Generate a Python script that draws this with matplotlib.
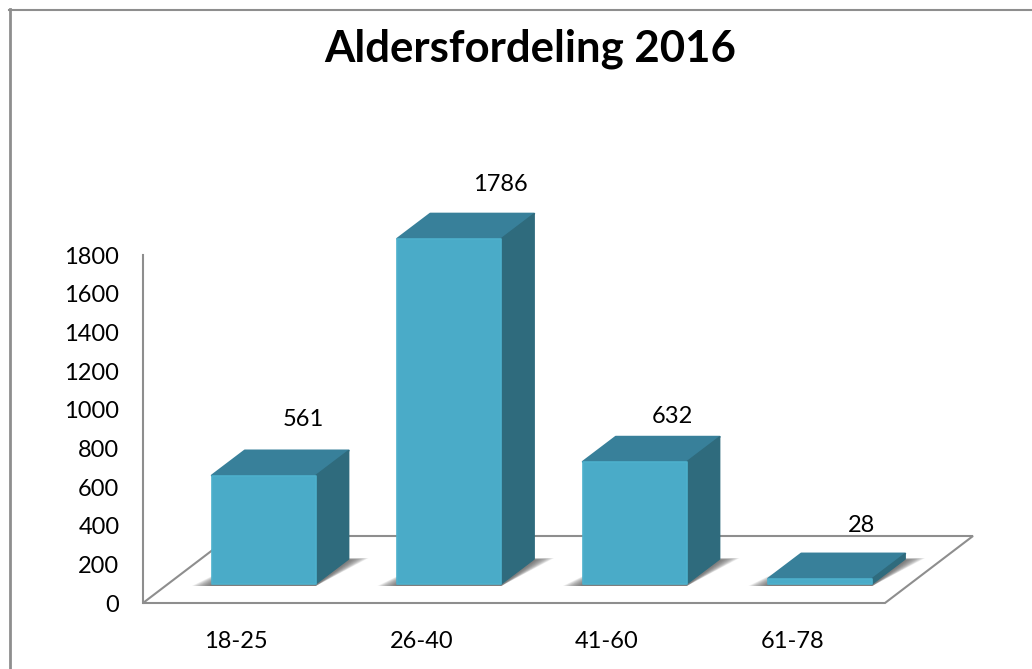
#!/usr/bin/env python3
import matplotlib
matplotlib.use("Agg")
import matplotlib.pyplot as plt
from matplotlib.lines import Line2D
from matplotlib.patches import Polygon
from matplotlib.transforms import IdentityTransform

plt.rcParams["font.family"] = ["Lato", "DejaVu Sans"]

# values
title = "Aldersfordeling 2016"
categories = ["18-25", "26-40", "41-60", "61-78"]
values = [561, 1786, 632, 28]
y_ticks = [0, 200, 400, 600, 800, 1000, 1200, 1400, 1600, 1800]

# colours
FRONT = "#4aabc8"
EDGE = "#4db0cc"
TOP = "#38809a"
SIDE = "#2f6b7d"
GREY = "#8e8e8e"

W, H = 1032, 669
BAR_W = 0.56
# pixel offsets of the oblique projection
FRONT_OFF = (28, 19)
BACK_OFF = (61, 44)
FLOOR_OFF = (88, 67)
LABEL_OFF = [(40, 56), (51, 54), (38, 45), (41, 53)]


def main():
    fig = plt.figure(figsize=(W / 100, H / 100), dpi=100)
    ax = fig.add_axes([143 / W, (H - 603) / H, (885 - 143) / W, 348 / H])
    ax.set_xlim(-0.5, 3.5)
    ax.set_ylim(0, 1800)
    ax.patch.set_alpha(0)

    for name in ["top", "right", "bottom"]:
        ax.spines[name].set_visible(False)
    ax.spines["left"].set_color(GREY)
    ax.spines["left"].set_linewidth(1.5)

    ax.set_xticks(range(len(categories)))
    ax.set_xticklabels(categories)
    ax.set_yticks(y_ticks)
    ax.tick_params(axis="x", length=0, pad=20, labelsize=17)
    ax.tick_params(axis="y", length=0, pad=17, labelsize=17)

    def px(x, v, off=(0, 0)):
        dx, dy = ax.transData.transform((x, v))
        return dx + off[0], dy + off[1]

    def poly(points, **kw):
        p = Polygon(points, closed=True, transform=IdentityTransform(), clip_on=False, **kw)
        ax.add_patch(p)
        return p

    # floor
    x0, x1 = -0.5, 3.5
    poly(
        [px(x0, 0), px(x1, 0), px(x1, 0, FLOOR_OFF), px(x0, 0, FLOOR_OFF)],
        facecolor="white",
        edgecolor=GREY,
        linewidth=1.5,
        joinstyle="miter",
        zorder=1,
    )

    for i, v in enumerate(values):
        xl, xr = i - BAR_W / 2, i + BAR_W / 2

        # soft shadow on the floor
        n = 16
        for k in range(n):
            grow = 20 * (1 - k / n)
            a = px(xl, 0, FRONT_OFF)
            b = px(xr, 0, FRONT_OFF)
            c = px(xr, 0, BACK_OFF)
            d = px(xl, 0, BACK_OFF)
            poly(
                [
                    (a[0] - grow, a[1] - 2),
                    (b[0], b[1] - 2),
                    (c[0] + grow, c[1] - 1 + grow * 0.1),
                    (d[0] + grow * 0.2, d[1] - 1 + grow * 0.1),
                ],
                facecolor="#555555",
                edgecolor="none",
                alpha=0.08,
                zorder=2,
            )

        # top, side and front faces
        poly(
            [px(xl, v, FRONT_OFF), px(xr, v, FRONT_OFF), px(xr, v, BACK_OFF), px(xl, v, BACK_OFF)],
            facecolor=TOP,
            edgecolor=TOP,
            linewidth=1.5,
            joinstyle="round",
            zorder=3,
        )
        poly(
            [px(xr, 0, FRONT_OFF), px(xr, 0, BACK_OFF), px(xr, v, BACK_OFF), px(xr, v, FRONT_OFF)],
            facecolor=SIDE,
            edgecolor=SIDE,
            linewidth=1.0,
            joinstyle="round",
            zorder=3,
        )
        poly(
            [px(xl, 0, FRONT_OFF), px(xr, 0, FRONT_OFF), px(xr, v, FRONT_OFF), px(xl, v, FRONT_OFF)],
            facecolor=FRONT,
            edgecolor=EDGE,
            linewidth=1.2,
            joinstyle="round",
            zorder=4,
        )

        # value label
        lx, ly = px(i, v, (FRONT_OFF[0] + LABEL_OFF[i][0], FRONT_OFF[1] + LABEL_OFF[i][1]))
        ax.text(
            lx, ly, str(v), transform=IdentityTransform(), ha="center", va="center",
            fontsize=17, color="black", zorder=5, clip_on=False,
        )

    # outer frame, cut off by the image on the right and at the bottom
    fig.add_artist(Line2D([9.5 / W, 9.5 / W], [0, (H - 9) / H], color=GREY, lw=2, transform=fig.transFigure))
    fig.add_artist(Line2D([9 / W, 1], [(H - 9.5) / H, (H - 9.5) / H], color=GREY, lw=1.5, transform=fig.transFigure))

    fig.text(530.5 / W, (H - 49) / H, title, ha="center", va="center", fontsize=31.5, fontweight="bold", color="black")

    fig.savefig("out.png", dpi=100, facecolor="white")
    plt.close(fig)


if __name__ == "__main__":
    main()
